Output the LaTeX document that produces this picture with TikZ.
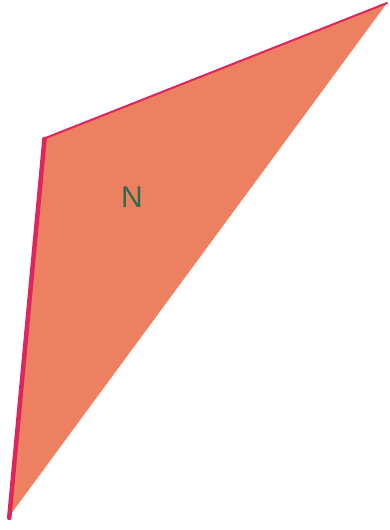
\documentclass[tikz,border=0pt]{standalone}
\usepackage{fontspec}
\setmainfont{Liberation Sans}
\definecolor{tri}{HTML}{EE8062}
\definecolor{edge}{HTML}{E0245C}
\definecolor{lbl}{HTML}{2E6A50}
\begin{document}
\begin{tikzpicture}[x=1pt,y=-1pt]
\useasboundingbox (0,0) rectangle (390,530);
\coordinate (A) at (43,139);
\coordinate (B) at (387,3);
\coordinate (C) at (8,518);
\fill[tri] (A) -- (B) -- (C) -- cycle;
\draw[edge, line width=2pt, line cap=round] (B) -- (A);
\draw[edge, line width=4.5pt, line cap=round, line join=round] ([xshift=1.5pt]A) -- ([xshift=1.2pt]C);
\node[text=lbl, font=\fontsize{30}{30}\selectfont] (n) at (132,197) {N};
\end{tikzpicture}
\end{document}
